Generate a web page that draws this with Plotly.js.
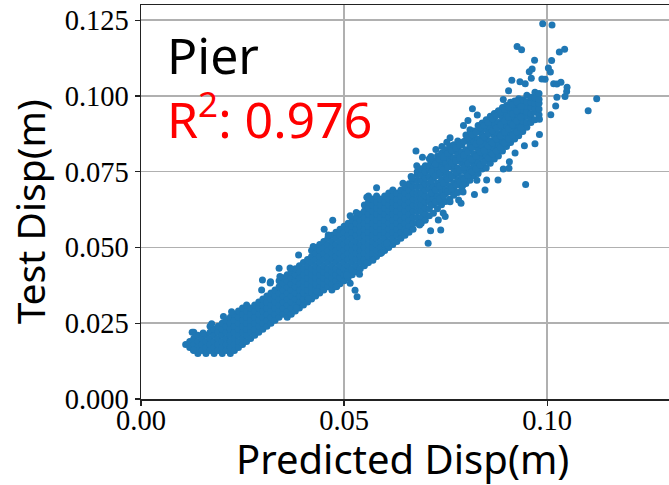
<!DOCTYPE html>
<html><head><meta charset="utf-8">
<script src="https://cdn.plot.ly/plotly-3.0.1.min.js"></script>
<style>html,body{margin:0;padding:0;background:#fff}</style></head>
<body><div id="chart" style="width:669px;height:485px"></div>
<script>
const bandPredicted = [.011,.012,.013,.014,.015,.016,.017,.018,.019,.020,.021,.022,.023,.024,.025,.026,.027,.028,.029,.030,.031,.032,.033,.034,.035,.036,.037,.038,.039,.040,.041,.042,.043,.044,.045,.046,.047,.048,.049,.050,.051,.052,.053,.054,.055,.056,.057,.058,.059,.060,.061,.062,.063,.064,.065,.066,.067,.068,.069,.070,.071,.072,.073,.074,.075,.076,.077,.078,.079,.080,.081,.082,.083,.084,.085,.086,.087,.088,.089,.090,.091,.092,.093,.094,.095,.096,.097,.098];
const bandTest = [
[.018],[.017,.019],[.016,.018,.020,.022],[.015,.017,.019,.021],[.016,.018,.020],[.015,.017,.019,.021],
[.016,.018,.020,.022,.024],[.015,.017,.019,.021,.023],[.016,.018,.020,.022,.024],[.015,.017,.019,.021,.023,.025],
[.016,.018,.020,.022,.024,.026],[.015,.017,.019,.021,.023,.025,.027],[.016,.018,.020,.022,.024,.026,.028],
[.017,.019,.021,.023,.025,.027,.029],[.018,.020,.022,.024,.026,.028,.030],[.019,.021,.023,.025,.027,.029,.031],
[.020,.022,.024,.026,.028,.030],[.021,.023,.025,.027,.029,.031],[.022,.024,.026,.028,.030,.032],
[.023,.025,.027,.029,.031,.033],[.024,.026,.028,.030,.032,.034],[.025,.027,.029,.031,.033,.035],
[.026,.028,.030,.032,.034,.036],[.027,.029,.031,.033,.035,.037,.039],[.028,.030,.032,.034,.036,.038,.040],
[.027,.029,.031,.033,.035,.037,.039,.041],[.028,.030,.032,.034,.036,.038,.040,.042],[.029,.031,.033,.035,.037,.039,.041,.043],
[.030,.032,.034,.036,.038,.040,.042,.044],[.031,.033,.035,.037,.039,.041,.043,.045],[.032,.034,.036,.038,.040,.042,.044,.046],
[.033,.035,.037,.039,.041,.043,.045,.047,.049],[.034,.036,.038,.040,.042,.044,.046,.048,.050],[.035,.037,.039,.041,.043,.045,.047,.049,.051],
[.036,.038,.040,.042,.044,.046,.048,.050,.052],[.037,.039,.041,.043,.045,.047,.049,.051,.053],[.036,.038,.040,.042,.044,.046,.048,.050,.052,.054],
[.037,.039,.041,.043,.045,.047,.049,.051,.053,.055],[.038,.040,.042,.044,.046,.048,.050,.052,.054,.056],[.039,.041,.043,.045,.047,.049,.051,.053,.055,.057],
[.040,.042,.044,.046,.048,.050,.052,.054,.056,.058],[.041,.043,.045,.047,.049,.051,.053,.055,.057,.059],[.042,.044,.046,.048,.050,.052,.054,.056,.058,.060],
[.043,.045,.047,.049,.051,.053,.055,.057,.059,.061],[.044,.046,.048,.050,.052,.054,.056,.058,.060,.062,.064],[.045,.047,.049,.051,.053,.055,.057,.059,.061,.063,.065,.067],
[.046,.048,.050,.052,.054,.056,.058,.060,.062,.064,.066],[.047,.049,.051,.053,.055,.057,.059,.061,.063,.065,.067],[.048,.050,.052,.054,.056,.058,.060,.062,.064,.066],
[.049,.051,.053,.055,.057,.059,.061,.063,.065,.067],[.050,.052,.054,.056,.058,.060,.062,.064,.066,.068],[.051,.053,.055,.057,.059,.061,.063,.065,.067,.069],
[.052,.054,.056,.058,.060,.062,.064,.066,.068],[.053,.055,.057,.059,.061,.063,.065,.067,.069],[.054,.056,.058,.060,.062,.064,.066,.068,.070],
[.055,.057,.059,.061,.063,.065,.067,.069,.071],[.056,.058,.060,.062,.064,.066,.068,.070,.072],[.058,.060,.062,.064,.066,.068,.070,.072,.074,.075],
[.058,.060,.062,.064,.066,.068,.070,.072,.074,.076],[.059,.061,.063,.065,.067,.069,.071,.073,.075,.077],
[.0605,.0628,.0652,.0669,.0693,.0712,.0734,.0758,.0771,.0793],[.0613,.0641,.0662,.0679,.0702,.0728,.0745,.0762,.0787],
[.0628,.0649,.0671,.0693,.0712,.0738,.0755,.0776,.0802],[.0641,.0655,.0683,.0701,.0724,.0746,.0768,.0785,.0811],
[.0652,.0677,.0691,.0713,.0738,.0752,.0779,.0798,.0822],[.0659,.0684,.0703,.0726,.0741,.0767,.0789,.0804,.0835],
[.0672,.0692,.0712,.0735,.0758,.0773,.0796,.0818,.0839],[.0681,.0707,.0724,.0746,.0761,.0785,.0807,.0826,.0851],
[.0692,.0713,.0731,.0754,.0779,.0793,.0815,.0838],[.0711,.0728,.0749,.0766,.0789,.0807,.0822,.0853,.0871],
[.0722,.0741,.0758,.0782,.0795,.0818,.0839,.0856,.0888],[.0737,.0752,.0773,.0788,.0809,.0832,.0851,.0869,.0884],
[.0744,.0763,.0781,.0803,.0826,.0842,.0858,.0883,.0902],[.0759,.0772,.0798,.0811,.0836,.0855,.0871,.0892,.0911],
[.0762,.0788,.0804,.0827,.0843,.0862,.0889,.0902,.0921],[.0778,.0796,.0817,.0838,.0852,.0877,.0893,.0917,.0933],
[.0792,.0811,.0825,.0846,.0869,.0883,.0908,.0926,.0942],[.0802,.0822,.0838,.0859,.0876,.0899,.0912,.0938,.0951],
[.0818,.0836,.0851,.0873,.0891,.0907,.0927,.0946,.0962],[.0833,.0847,.0868,.0883,.0902,.0919,.0941,.0956,.0968],
[.0846,.0862,.0876,.0898,.0916,.0934,.0948,.0966,.0979],[.0858,.0879,.0893,.0908,.0927,.0941,.0962,.0983],
[.0869,.0887,.0906,.0923,.0938,.0955,.0973,.0991],[.0883,.0904,.0917,.0936,.0952,.0969,.0987],
[.0897,.0912,.0933,.0948,.0966,.0981,.1002],[.0912,.0928,.0941,.0962,.0978,.0996],
[.0921,.0946,.0959,.0975,.0994,.1012],[.0938,.0957,.0976,.0989,.1008]
];
const fillPredicted = [.0715,.0725,.0735,.0745,.0755,.0765,.0775,.0785,.0795,.0805,.0815,.0825,.0835,.0845,.0855,.0865,.0875,.0885,.0895,.0905,.0915,.0925,.0935];
const fillTest = [
[.0640,.0680,.0720,.0750],[.0650,.0690,.0735,.0775],[.0660,.0702,.0745,.0790],[.0670,.0712,.0757,.0798],
[.0685,.0725,.0765,.0810],[.0695,.0735,.0778,.0820],[.0705,.0748,.0785,.0828],[.0715,.0755,.0795,.0838],
[.0725,.0765,.0805,.0850],[.0738,.0778,.0815,.0862],[.0750,.0790,.0830,.0872],[.0760,.0800,.0842,.0880],
[.0772,.0815,.0850,.0895],[.0782,.0820,.0865,.0902],[.0795,.0835,.0875,.0912],[.0808,.0845,.0885,.0925],
[.0818,.0858,.0895,.0935],[.0830,.0868,.0905,.0945],[.0845,.0880,.0918,.0955],[.0858,.0892,.0930,.0962],
[.0870,.0905,.0940,.0972],[.0882,.0918,.0950,.0980],[.0895,.0930,.0965]
];
const strayPredicted = [.0989,.1012,.0926,.0937,.1030,.1043,.0969,.1011,.1003,.1008,.0956,.0963,.0961,.0913,.0987,.0995,.0933,.0946,.1016,.1024,.1034,.1049,.1048,.1044,.1024,.1122,.1101,.1021,.1009,.0981,.0981,.0970,.0944,.0921,.0907,.0906,.0892,.0879,.0947,.0847,.0821,.0851,.0827,.0793,.0816,.0828,.0794,.0805,.0761,.0753,.0741,.0726,.0677,.0693,.0714,.0679,.0665,.0645,.0892,.0905,.0580,.0472,.0451,.0515,.0340,.0299,.0297,.0319,.0388,.0434,.0412,.0515,.0527,.0532,.0538,.0571,.0593,.0610,.0654,.0707,.0713,.0738,.0732,.0749,.0788,.0761,.0686,.0126,.0153,.0129,.0174,.0203,.0223,.0318,.0342,.0367,.0424,.0461,.0530,.0556,.0667,.0782,.0793,.0383,.0482,.0507,.0556,.0605,.0687,.0744];
const strayTest = [.1238,.1234,.1163,.1152,.1145,.1154,.1118,.1117,.1092,.1079,.1080,.1089,.1058,.1052,.1056,.1055,.1047,.1040,.1040,.1039,.1045,.1029,.1015,.0998,.0996,.0991,.0951,.0967,.0938,.0923,.0873,.0842,.0836,.0812,.0783,.0761,.0759,.0723,.0708,.0690,.0675,.0723,.0722,.0683,.0958,.0937,.0902,.0919,.0862,.0847,.0833,.0823,.0818,.0798,.0800,.0770,.0734,.0712,.0988,.1017,.0697,.0590,.0560,.0605,.0431,.0393,.0360,.0387,.0475,.0355,.0332,.0382,.0359,.0337,.0412,.0458,.0483,.0505,.0552,.0514,.0555,.0558,.0591,.0602,.0646,.0651,.0574,.0220,.0218,.0162,.0248,.0272,.0288,.0383,.0404,.0432,.0503,.0541,.0615,.0666,.0728,.0657,.0706,.0300,.0371,.0409,.0449,.0514,.0580,.0614];
const xTicks = [0, 0.05, 0.10];
const xTickLabels = ['0.00', '0.05', '0.10'];
const yTicks = [0, 0.025, 0.05, 0.075, 0.1, 0.125];
const yTickLabels = ['0.000', '0.025', '0.050', '0.075', '0.100', '0.125'];

const xs = [], ys = [];
bandTest.forEach((col, i) => col.forEach(v => { xs.push(bandPredicted[i]); ys.push(v); }));
fillTest.forEach((col, i) => col.forEach(v => { xs.push(fillPredicted[i]); ys.push(v); }));
strayPredicted.forEach((v, i) => { xs.push(v); ys.push(strayTest[i]); });

const sans = '"Noto Sans", sans-serif';
const tickFont = {family: '"Liberation Serif", serif', size: 28.5, color: '#000'};
const axis = {
  showgrid: true, gridcolor: '#b0b0b0', gridwidth: 1.5,
  showline: true, linecolor: '#222', linewidth: 1.5,
  ticks: 'outside', ticklen: 5, tickwidth: 1.2, tickcolor: '#222',
  zeroline: false, tickfont: tickFont, range: [0, 0.13], tickmode: 'array', automargin: false
};
Plotly.newPlot('chart', [{
  type: 'scatter', mode: 'markers', x: xs, y: ys,
  marker: {color: '#1f77b4', size: 7, line: {width: 0}}, hoverinfo: 'skip'
}], {
  width: 669, height: 485, showlegend: false,
  paper_bgcolor: '#fff', plot_bgcolor: '#fff',
  margin: {l: 141, r: 0, t: 5, b: 86, pad: 0},
  xaxis: Object.assign({}, axis, {tickvals: xTicks, ticktext: xTickLabels, mirror: true, ticklabelstandoff: -10}),
  yaxis: Object.assign({}, axis, {tickvals: yTicks, ticktext: yTickLabels}),
  annotations: [
    {xref: 'paper', yref: 'paper', x: 0.4953, y: -0.152, xanchor: 'center', yanchor: 'middle', showarrow: false,
     text: 'Predicted Disp(m)', font: {family: sans, size: 40, color: '#000'}},
    {xref: 'paper', yref: 'paper', x: -0.2115, y: 0.4746, xanchor: 'center', yanchor: 'middle', showarrow: false, textangle: -90,
     text: 'Test Disp(m)', font: {family: sans, size: 39, color: '#000'}},
    {xref: 'paper', yref: 'paper', x: 0.045, y: 0.872, xanchor: 'left', yanchor: 'middle', showarrow: false,
     text: 'Pier', font: {family: sans, size: 50, color: '#000'}},
    {xref: 'paper', yref: 'paper', x: 0.045, y: 0.718, xanchor: 'left', yanchor: 'middle', showarrow: false,
     text: 'R<sup>2</sup>: 0.976', font: {family: sans, size: 50, color: '#ff0000'}}
  ]
}, {displayModeBar: false, staticPlot: true});
</script></body></html>
